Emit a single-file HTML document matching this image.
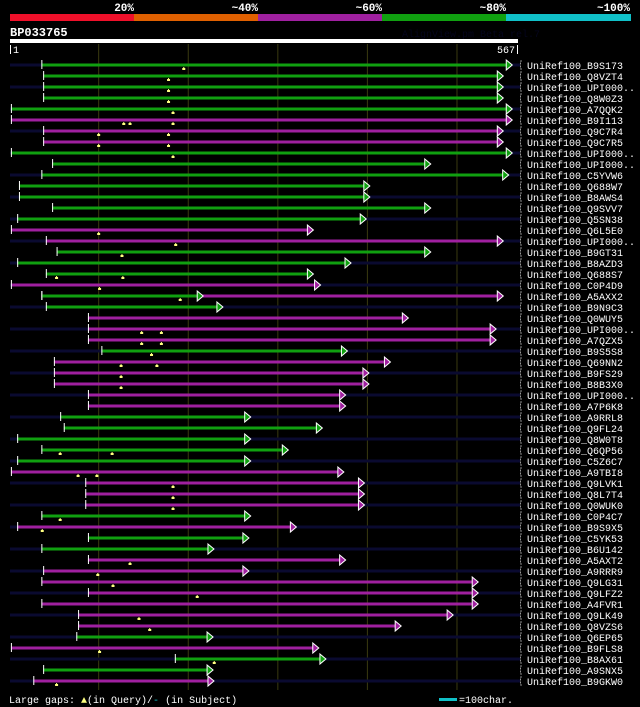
<!DOCTYPE html>
<html><head><meta charset="utf-8"><style>
html,body{margin:0;padding:0;background:#000;}
svg{display:block;}
text{font-family:"Liberation Mono",monospace;}
</style></head><body>
<svg id="chart" width="640" height="707" viewBox="0 0 640 707" xmlns="http://www.w3.org/2000/svg">
<rect x="0" y="0" width="640" height="707" fill="#000"/>
<g>
<rect x="10" y="14" width="124" height="7" fill="#f0102a"/>
<rect x="134" y="14" width="124" height="7" fill="#e06000"/>
<rect x="258" y="14" width="124" height="7" fill="#a020a0"/>
<rect x="382" y="14" width="124" height="7" fill="#10a010"/>
<rect x="506" y="14" width="125" height="7" fill="#10c0c8"/>
<text x="134" y="11" fill="#fff" font-size="11" font-weight="bold" text-anchor="end">20%</text>
<text x="258" y="11" fill="#fff" font-size="11" font-weight="bold" text-anchor="end">~40%</text>
<text x="382" y="11" fill="#fff" font-size="11" font-weight="bold" text-anchor="end">~60%</text>
<text x="506" y="11" fill="#fff" font-size="11" font-weight="bold" text-anchor="end">~80%</text>
<text x="630" y="11" fill="#fff" font-size="11" font-weight="bold" text-anchor="end">~100%</text>
</g>
<text x="10" y="36" fill="#fff" font-size="12" font-weight="bold">BP033765</text>
<text x="402" y="37" fill="#05051c" font-size="10">AlignView.pm Beta rel.7</text>
<rect x="10" y="39" width="508" height="4" fill="#fff"/>
<rect x="10" y="45" width="1" height="9" fill="#fff"/>
<text x="13" y="53" fill="#fff" font-size="10">1</text>
<rect x="517" y="45" width="1" height="9" fill="#fff"/>
<text x="515" y="53" fill="#fff" font-size="10" text-anchor="end">567</text>
<g id="grid"></g>
<g id="rows"></g>
<g>
<text x="9" y="703" fill="#fff" font-size="10">Large gaps: <tspan fill="#ffff80">▲</tspan>(in Query)/<tspan fill="#10c0c8">-</tspan> (in Subject)</text>
<rect x="439" y="698" width="18" height="3" fill="#10c0c8"/>
<text x="459" y="703" fill="#fff" font-size="10">=100char.</text>
</g>
</svg>
<script>
const queryLength = 567;
const gridTicks = [100, 200, 300, 400, 500];
const names = ["B9S173","Q8VZT4","UPI000..","Q8W0Z3","A7QQK2","B9I113","Q9C7R4","Q9C7R5","UPI000..","UPI000..","C5YVW6","Q688W7","B8AWS4","Q9SVV7","Q5SN38","Q6L5E0","UPI000..","B9GT31","B8AZD3","Q688S7","C0P4D9","A5AXX2","B9N9C3","Q0WUY5","UPI000..","A7QZX5","B9S5S8","Q69NN2","B9FS29","B8B3X0","UPI000..","A7P6K8","A9RRL8","Q9FL24","Q8W0T8","Q6QP56","C5Z6C7","A9TBI8","Q9LVK1","Q8L7T4","Q0WUK0","C0P4C7","B9S9X5","C5YK53","B6U142","A5AXT2","A9RRR9","Q9LG31","Q9LFZ2","A4FVR1","Q9LK49","Q8VZS6","Q6EP65","B9FLS8","B8AX61","A9SNX5","B9GKW0"];
const starts = [36,38,38,38,2,2,38,38,2,48,36,11,11,48,9,2,41,53,9,41,2,36,41,88,88,88,103,50,50,50,88,88,57,61,9,36,9,2,85,85,85,36,9,88,36,88,38,36,88,36,77,77,75,2,185,38,27];
const ends = [555,545,545,545,555,555,545,545,555,464,551,396,396,464,392,333,545,464,375,333,341,545,232,439,537,537,371,419,395,395,369,369,263,343,263,305,263,367,390,390,390,263,314,261,222,369,261,517,517,517,489,431,221,339,347,221,222];
const kinds = ["g","g","g","g","g","m","m","m","g","g","g","g","g","g","g","m","m","g","g","g","m","m","g","m","m","m","g","m","m","m","m","m","g","g","g","g","g","m","m","m","m","g","m","g","g","m","m","m","m","m","m","m","g","m","g","g","m"];
const overlayEnds = {21: 210};
const markers = [[195],[178],[178],[178],[183],[128,135,183],[100,178],[100,178],[183],[],[],[],[],[],[],[100],[186],[126],[],[53,127],[101],[191],[],[],[148,170],[148,170],[159],[125,165],[125],[125],[],[],[],[],[],[57,115],[],[77,98],[183],[183],[183],[57],[37],[],[],[135],[99],[116],[210],[],[145],[157],[],[101],[229],[],[53]];

const NS = "http://www.w3.org/2000/svg";
const X0 = 10, X1 = 517;
function xScale(r){ return X0 + (r - 1) * (X1 - X0) / (queryLength - 1); }
function yRow(i){ return 65 + i * 11; }
const colors = {g:"#10a010", m:"#a020a0"};
function mk(tag, attrs, parent){ const e = document.createElementNS(NS, tag); for (const k in attrs) e.setAttribute(k, attrs[k]); parent.appendChild(e); return e; }

const grid = document.getElementById('grid');
gridTicks.forEach(t => {
  const l = mk('line', {x1: xScale(t), x2: xScale(t), y1: 44, y2: 690, stroke: '#3a3a10', 'stroke-width': 1}, grid);
  
  
});

const rows = document.getElementById('rows');
names.forEach((n, i) => {
  const y = yRow(i);
  const g = mk('g', {}, rows);
  
  
  if (i % 2 === 0) {
    const bg = mk('rect', {x: 10, y: y - 1.5, width: 510, height: 3, fill: '#0a0a30'}, g);
    
    
  }
  const drawBar = (s, e, c) => {
    const xs = xScale(s), xe = xScale(e);
    const b = mk('rect', {x: xs, y: y - 1.5, width: xe - xs, height: 3, fill: colors[c]}, g);
    
    
    const a = mk('polygon', {points: `${xe},${y-5} ${xe+6},${y} ${xe},${y+5}`, fill: colors[c], stroke: '#fff', 'stroke-width': 1}, g);
    
    
    const t = mk('rect', {x: xs, y: y - 5, width: 1, height: 9, fill: '#fff'}, g);
    
    
  };
  drawBar(starts[i], ends[i], kinds[i]);
  if (overlayEnds[i] !== undefined) drawBar(starts[i], overlayEnds[i], 'g');
  markers[i].forEach(m => {
    const x = xScale(m);
    const p = mk('rect', {x: x - 1.5, y: y + 3, width: 3, height: 2, fill: '#ffff80'}, g);
    
    
    const q = mk('rect', {x: x - 0.5, y: y + 2, width: 1, height: 1, fill: '#ffff80'}, g);
    
    
  });
  const br = mk('path', {d: `M522,${y-4} L520.5,${y-4} L520.5,${y+4} L522,${y+4}`, stroke: '#bbb', 'stroke-width': 0.8, fill: 'none', 'stroke-dasharray': '2,1'}, g);
  
  
  const tx = mk('text', {x: 527, y: y + 4, fill: '#fff', 'font-size': 10}, g);
  tx.textContent = 'UniRef100_' + n;
  
  
});
</script>
</body></html>
